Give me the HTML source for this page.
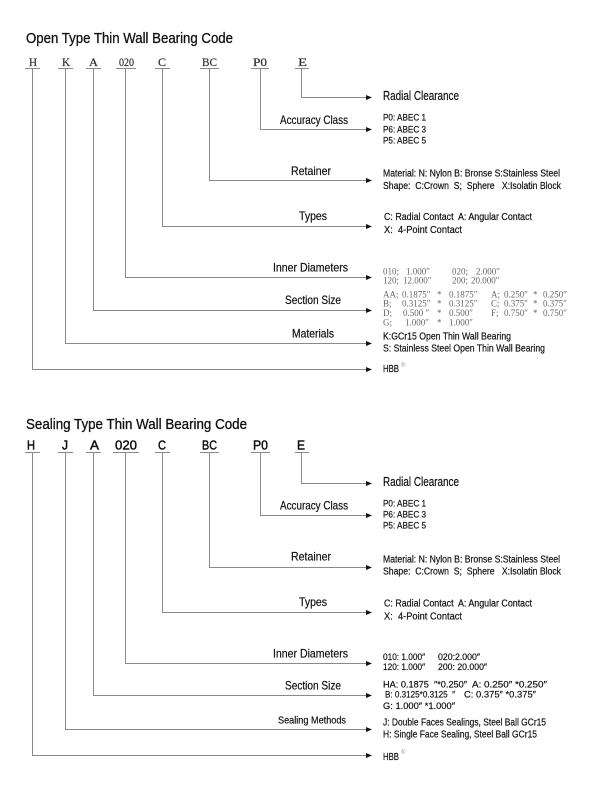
<!DOCTYPE html>
<html><head><meta charset="utf-8"><style>
html,body{margin:0;padding:0;background:#fff;width:600px;height:800px;overflow:hidden}
svg{display:block}
.t{font-family:"Liberation Sans",sans-serif;fill:#111;stroke:#111;stroke-width:0.2}
.s{font-family:"Liberation Serif",serif;fill:#666}
.c{font-family:"Liberation Serif",serif;fill:#333;stroke:#333;stroke-width:0.25}
.cs{font-family:"Liberation Sans",sans-serif;fill:#111;stroke:#111;stroke-width:0.45}
line{stroke:#8a8a8a;stroke-width:1}
polygon{fill:#111}
</style></head><body>
<svg width="600" height="800" viewBox="0 0 600 800" xmlns="http://www.w3.org/2000/svg">
<!-- ============ OPEN TYPE ============ -->
<text class="t" x="26" y="43" font-size="15" textLength="207" lengthAdjust="spacingAndGlyphs" style="stroke-width:0.3">Open Type Thin Wall Bearing Code</text>
<g font-size="12">
<text class="c" x="29" y="66" textLength="8" lengthAdjust="spacingAndGlyphs">H</text>
<text class="c" x="62" y="66" textLength="8" lengthAdjust="spacingAndGlyphs">K</text>
<text class="c" x="89" y="66" textLength="9" lengthAdjust="spacingAndGlyphs">A</text>
<text class="c" x="119" y="66" textLength="15" lengthAdjust="spacingAndGlyphs">020</text>
<text class="c" x="158" y="66" textLength="8" lengthAdjust="spacingAndGlyphs">C</text>
<text class="c" x="202" y="66" textLength="15" lengthAdjust="spacingAndGlyphs">BC</text>
<text class="c" x="253" y="66" textLength="14" lengthAdjust="spacingAndGlyphs">P0</text>
<text class="c" x="298" y="66" textLength="9" lengthAdjust="spacingAndGlyphs">E</text>
</g>
<g shape-rendering="crispEdges">
<line x1="25" y1="68.5" x2="40" y2="68.5"/>
<line x1="58" y1="68.5" x2="73" y2="68.5"/>
<line x1="86" y1="68.5" x2="101" y2="68.5"/>
<line x1="116" y1="68.5" x2="136" y2="68.5"/>
<line x1="155" y1="68.5" x2="170" y2="68.5"/>
<line x1="200" y1="68.5" x2="219" y2="68.5"/>
<line x1="251" y1="68.5" x2="269" y2="68.5"/>
<line x1="295" y1="68.5" x2="309" y2="68.5"/>

<line x1="32.5" y1="69" x2="32.5" y2="369.5"/><line x1="32" y1="369.5" x2="366" y2="369.5"/>
<line x1="65.5" y1="69" x2="65.5" y2="343.5"/><line x1="65" y1="343.5" x2="366" y2="343.5"/>
<line x1="93.5" y1="69" x2="93.5" y2="310.5"/><line x1="93" y1="310.5" x2="366" y2="310.5"/>
<line x1="125.5" y1="69" x2="125.5" y2="277.5"/><line x1="125" y1="277.5" x2="366" y2="277.5"/>
<line x1="162.5" y1="69" x2="162.5" y2="226.5"/><line x1="162" y1="226.5" x2="366" y2="226.5"/>
<line x1="209.5" y1="69" x2="209.5" y2="180.5"/><line x1="209" y1="180.5" x2="366" y2="180.5"/>
<line x1="260.5" y1="69" x2="260.5" y2="129.5"/><line x1="260" y1="129.5" x2="366" y2="129.5"/>
<line x1="301.5" y1="69" x2="301.5" y2="97.5"/><line x1="301" y1="97.5" x2="366" y2="97.5"/>
</g>
<polygon points="366,95 372,97.5 366,100"/>
<polygon points="366,127 372,129.5 366,132"/>
<polygon points="366,178 372,180.5 366,183"/>
<polygon points="366,224 372,226.5 366,229"/>
<polygon points="366,275 372,277.5 366,280"/>
<polygon points="366,308 372,310.5 366,313"/>
<polygon points="366,341 372,343.5 366,346"/>
<polygon points="366,367 372,369.5 366,372"/>

<text class="t" x="383" y="100" font-size="12.5" textLength="76" lengthAdjust="spacingAndGlyphs">Radial Clearance</text>
<text class="t" x="280" y="124" font-size="12" textLength="68" lengthAdjust="spacingAndGlyphs">Accuracy Class</text>
<g font-size="9.5">
<text class="t" x="383" y="120.7" textLength="43" lengthAdjust="spacingAndGlyphs">P0: ABEC 1</text>
<text class="t" x="383" y="132.3" textLength="43" lengthAdjust="spacingAndGlyphs">P6: ABEC 3</text>
<text class="t" x="383" y="143.3" textLength="43" lengthAdjust="spacingAndGlyphs">P5: ABEC 5</text>
</g>
<text class="t" x="291" y="175" font-size="12" textLength="40" lengthAdjust="spacingAndGlyphs">Retainer</text>
<text class="t" x="383" y="176.7" font-size="10" textLength="177" lengthAdjust="spacingAndGlyphs">Material: N: Nylon B: Bronse S:Stainless Steel</text>
<text class="t" x="383" y="189" font-size="10" textLength="178" lengthAdjust="spacingAndGlyphs" xml:space="preserve">Shape:  C:Crown  S;  Sphere   X:Isolatin Block</text>
<text class="t" x="299" y="220" font-size="12" textLength="28" lengthAdjust="spacingAndGlyphs">Types</text>
<text class="t" x="384" y="220" font-size="10" textLength="148" lengthAdjust="spacingAndGlyphs" xml:space="preserve">C: Radial Contact  A: Angular Contact</text>
<text class="t" x="384" y="233" font-size="10" textLength="78" lengthAdjust="spacingAndGlyphs" xml:space="preserve">X:  4-Point Contact</text>
<text class="t" x="273" y="271.7" font-size="12" textLength="75" lengthAdjust="spacingAndGlyphs">Inner Diameters</text>
<g font-size="9">
<text class="s" x="383" y="274.3">010;</text><text class="s" x="406" y="274.3">1.000″</text>
<text class="s" x="452" y="274.3">020;</text><text class="s" x="476" y="274.3">2.000″</text>
<text class="s" x="383" y="283.3">120;</text><text class="s" x="403" y="283.3">12.000″</text>
<text class="s" x="452" y="283.3">200;</text><text class="s" x="471" y="283.3">20.000″</text>

<text class="s" x="383" y="297.3">AA;</text><text class="s" x="402" y="297.3">0.1875″</text><text class="s" x="437" y="297.3">*</text><text class="s" x="449" y="297.3">0.1875″</text>
<text class="s" x="491" y="297.3">A;</text><text class="s" x="504" y="297.3">0.250″</text><text class="s" x="533" y="297.3">*</text><text class="s" x="543" y="297.3">0.250″</text>
<text class="s" x="383" y="306.7">B;</text><text class="s" x="402" y="306.7">0.3125″</text><text class="s" x="437" y="306.7">*</text><text class="s" x="449" y="306.7">0.3125″</text>
<text class="s" x="491" y="306.7">C;</text><text class="s" x="504" y="306.7">0.375″</text><text class="s" x="533" y="306.7">*</text><text class="s" x="543" y="306.7">0.375″</text>
<text class="s" x="383" y="316">D;</text><text class="s" x="403" y="316">0.500 ″</text><text class="s" x="437" y="316">*</text><text class="s" x="449" y="316">0.500″</text>
<text class="s" x="491" y="316">F;</text><text class="s" x="504" y="316">0.750″</text><text class="s" x="533" y="316">*</text><text class="s" x="543" y="316">0.750″</text>
<text class="s" x="383" y="325.3">G;</text><text class="s" x="405" y="325.3">1.000″</text><text class="s" x="437" y="325.3">*</text><text class="s" x="449" y="325.3">1.000″</text>
</g>
<text class="t" x="285" y="304" font-size="12" textLength="56" lengthAdjust="spacingAndGlyphs">Section Size</text>
<text class="t" x="292" y="337.7" font-size="12" textLength="42" lengthAdjust="spacingAndGlyphs">Materials</text>
<text class="t" x="383" y="339.3" font-size="10.5" textLength="128" lengthAdjust="spacingAndGlyphs">K:GCr15 Open Thin Wall Bearing</text>
<text class="t" x="383" y="351.7" font-size="10.5" textLength="162" lengthAdjust="spacingAndGlyphs">S: Stainless Steel Open Thin Wall Bearing</text>
<text class="t" x="383" y="372" font-size="10" textLength="16" lengthAdjust="spacingAndGlyphs">HBB</text>
<text x="401" y="367" font-size="6" font-family="Liberation Sans, sans-serif" fill="#999">®</text>

<!-- ============ SEALING TYPE ============ -->
<text class="t" x="26" y="429" font-size="15" textLength="221" lengthAdjust="spacingAndGlyphs" style="stroke-width:0.3">Sealing Type Thin Wall Bearing Code</text>
<g font-size="12.5">
<text class="cs" x="27" y="449.5" textLength="8" lengthAdjust="spacingAndGlyphs">H</text>
<text class="cs" x="62" y="449.5" textLength="6" lengthAdjust="spacingAndGlyphs">J</text>
<text class="cs" x="90" y="449.5" textLength="9" lengthAdjust="spacingAndGlyphs">A</text>
<text class="cs" x="115" y="449.5" textLength="22" lengthAdjust="spacingAndGlyphs">020</text>
<text class="cs" x="158" y="449.5" textLength="8" lengthAdjust="spacingAndGlyphs">C</text>
<text class="cs" x="202" y="449.5" textLength="15" lengthAdjust="spacingAndGlyphs">BC</text>
<text class="cs" x="253" y="449.5" textLength="15" lengthAdjust="spacingAndGlyphs">P0</text>
<text class="cs" x="297" y="449.5" textLength="8" lengthAdjust="spacingAndGlyphs">E</text>
</g>
<g shape-rendering="crispEdges">
<line x1="25" y1="452.5" x2="40" y2="452.5"/>
<line x1="58" y1="452.5" x2="73" y2="452.5"/>
<line x1="86" y1="452.5" x2="101" y2="452.5"/>
<line x1="113" y1="452.5" x2="139" y2="452.5"/>
<line x1="155" y1="452.5" x2="170" y2="452.5"/>
<line x1="200" y1="452.5" x2="219" y2="452.5"/>
<line x1="251" y1="452.5" x2="270" y2="452.5"/>
<line x1="295" y1="452.5" x2="309" y2="452.5"/>

<line x1="32.5" y1="453" x2="32.5" y2="755.5"/><line x1="32" y1="755.5" x2="366" y2="755.5"/>
<line x1="65.5" y1="453" x2="65.5" y2="729.5"/><line x1="65" y1="729.5" x2="366" y2="729.5"/>
<line x1="93.5" y1="453" x2="93.5" y2="695.5"/><line x1="93" y1="695.5" x2="366" y2="695.5"/>
<line x1="125.5" y1="453" x2="125.5" y2="663.5"/><line x1="125" y1="663.5" x2="366" y2="663.5"/>
<line x1="162.5" y1="453" x2="162.5" y2="612.5"/><line x1="162" y1="612.5" x2="366" y2="612.5"/>
<line x1="209.5" y1="453" x2="209.5" y2="567.5"/><line x1="209" y1="567.5" x2="366" y2="567.5"/>
<line x1="260.5" y1="453" x2="260.5" y2="515.5"/><line x1="260" y1="515.5" x2="366" y2="515.5"/>
<line x1="301.5" y1="453" x2="301.5" y2="483.5"/><line x1="301" y1="483.5" x2="366" y2="483.5"/>
</g>
<polygon points="366,481 372,483.5 366,486"/>
<polygon points="366,513 372,515.5 366,518"/>
<polygon points="366,565 372,567.5 366,570"/>
<polygon points="366,610 372,612.5 366,615"/>
<polygon points="366,661 372,663.5 366,666"/>
<polygon points="366,693 372,695.5 366,698"/>
<polygon points="366,727 372,729.5 366,732"/>
<polygon points="366,753 372,755.5 366,758"/>

<text class="t" x="383" y="486" font-size="12.5" textLength="76" lengthAdjust="spacingAndGlyphs">Radial Clearance</text>
<text class="t" x="280" y="509.3" font-size="12" textLength="68" lengthAdjust="spacingAndGlyphs">Accuracy Class</text>
<g font-size="9.5">
<text class="t" x="383" y="506.7" textLength="43" lengthAdjust="spacingAndGlyphs">P0: ABEC 1</text>
<text class="t" x="383" y="517.7" textLength="43" lengthAdjust="spacingAndGlyphs">P6: ABEC 3</text>
<text class="t" x="383" y="528.3" textLength="43" lengthAdjust="spacingAndGlyphs">P5: ABEC 5</text>
</g>
<text class="t" x="291" y="560.7" font-size="12" textLength="40" lengthAdjust="spacingAndGlyphs">Retainer</text>
<text class="t" x="383" y="562.7" font-size="10" textLength="177" lengthAdjust="spacingAndGlyphs">Material: N: Nylon B: Bronse S:Stainless Steel</text>
<text class="t" x="383" y="574.3" font-size="10" textLength="178" lengthAdjust="spacingAndGlyphs" xml:space="preserve">Shape:  C:Crown  S;  Sphere   X:Isolatin Block</text>
<text class="t" x="299" y="606" font-size="12" textLength="28" lengthAdjust="spacingAndGlyphs">Types</text>
<text class="t" x="384" y="606.7" font-size="10" textLength="148" lengthAdjust="spacingAndGlyphs" xml:space="preserve">C: Radial Contact  A: Angular Contact</text>
<text class="t" x="384" y="619.3" font-size="10" textLength="78" lengthAdjust="spacingAndGlyphs" xml:space="preserve">X:  4-Point Contact</text>
<text class="t" x="273" y="657.3" font-size="12" textLength="75" lengthAdjust="spacingAndGlyphs">Inner Diameters</text>
<g font-size="9.5">
<text class="t" x="383" y="660" textLength="42" lengthAdjust="spacingAndGlyphs">010: 1.000″</text>
<text class="t" x="438" y="660" textLength="42" lengthAdjust="spacingAndGlyphs">020:2.000″</text>
<text class="t" x="383" y="670" textLength="42" lengthAdjust="spacingAndGlyphs">120: 1.000″</text>
<text class="t" x="438" y="670" textLength="49" lengthAdjust="spacingAndGlyphs">200: 20.000″</text>
<text class="t" x="383" y="687.3" textLength="84" lengthAdjust="spacingAndGlyphs" xml:space="preserve">HA: 0.1875  ″*0.250″</text>
<text class="t" x="472" y="687.3" textLength="75" lengthAdjust="spacingAndGlyphs" xml:space="preserve">A: 0.250″ *0.250″</text>
<text class="t" x="385" y="697.7" textLength="70" lengthAdjust="spacingAndGlyphs" xml:space="preserve">B: 0.3125*0.3125  ″</text>
<text class="t" x="464" y="697.7" textLength="72" lengthAdjust="spacingAndGlyphs" xml:space="preserve">C: 0.375″ *0.375″</text>
<text class="t" x="383" y="709" textLength="72" lengthAdjust="spacingAndGlyphs" xml:space="preserve">G: 1.000″ *1.000″</text>
</g>
<text class="t" x="285" y="689.3" font-size="12" textLength="56" lengthAdjust="spacingAndGlyphs">Section Size</text>
<text class="t" x="278" y="723.3" font-size="10" textLength="68" lengthAdjust="spacingAndGlyphs">Sealing Methods</text>
<text class="t" x="383" y="725.7" font-size="10.5" textLength="163" lengthAdjust="spacingAndGlyphs">J: Double Faces Sealings, Steel Ball GCr15</text>
<text class="t" x="383" y="737.7" font-size="10.5" textLength="154" lengthAdjust="spacingAndGlyphs">H: Single Face Sealing, Steel Ball GCr15</text>
<text class="t" x="383" y="760" font-size="10" textLength="16" lengthAdjust="spacingAndGlyphs">HBB</text>
<text x="401" y="754" font-size="6" font-family="Liberation Sans, sans-serif" fill="#999">®</text>
</svg>
</body></html>
